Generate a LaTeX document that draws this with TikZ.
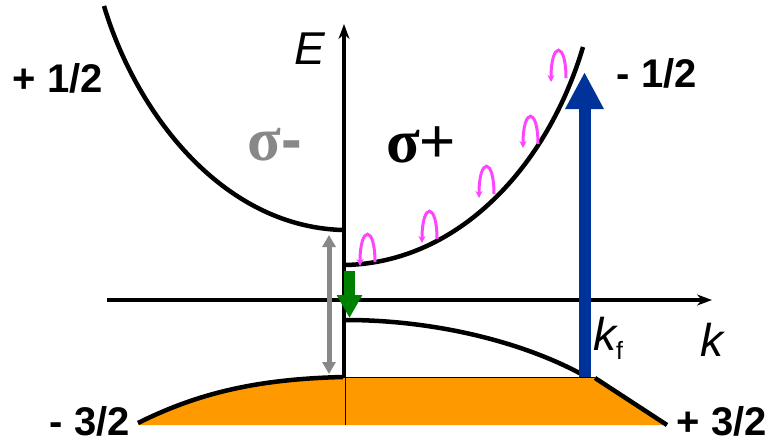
\documentclass[tikz,border=0pt]{standalone}
\usepackage{fontspec}
\setmainfont{Liberation Sans}
\newfontfamily\serifgreek{Liberation Serif}
\usetikzlibrary{arrows.meta}
\definecolor{orangefill}{HTML}{FF9900}
\definecolor{bluearrow}{HTML}{003399}
\definecolor{greenarrow}{HTML}{008000}
\definecolor{grayarrow}{HTML}{888888}
\definecolor{pinkarc}{HTML}{FF44FF}
\newcommand{\spincurl}[2]{%
  \draw[curl, shift={(#1,#2)}] (7,14) .. controls (7,-23) and (-8,-23) .. (-8,18);}
\begin{document}
\begin{tikzpicture}[x=1pt,y=-1pt,
  band/.style={line width=4.5pt},
  axisline/.style={line width=3.2pt},
  spinlabel/.style={font=\fontsize{40}{44}\selectfont\bfseries, inner sep=0pt},
  axislabel/.style={font=\fontsize{46}{50}\selectfont\itshape, inner sep=0pt},
  curl/.style={pinkarc, line width=3pt, -{Stealth[length=7pt,width=7pt]}},
]
\useasboundingbox (0,0) rectangle (773,445);

% orange filled heavy-hole region
\fill[orangefill] (138,425) .. controls (200,392) and (260,379) .. (343,377) -- (345,377) -- (345,425) -- cycle;
\fill[orangefill] (345,377) -- (595,377) -- (667,425) -- (345,425) -- cycle;
\draw[line width=1pt] (345,425) -- (345,377) -- (595,377);

% bands
\draw[band] (104,6) .. controls (135,110) and (220,226) .. (342,230);
\draw[band] (346,265) .. controls (460,262) and (548,165) .. (583,47);
\draw[band] (346,320) .. controls (430,320) and (520,340) .. (585,376);
\draw[band] (138,423) .. controls (200,392) and (260,379) .. (343,377);
\draw[band] (595,378) -- (667,425);

% axes
\coordinate (Ebot) at (344,378);
\coordinate (Etop) at (344,24);
\coordinate (kleft) at (107,300);
\coordinate (kright) at (712,300);
\draw[axisline, -{Stealth[length=15pt,width=11pt]}] (Ebot) -- (Etop);
\draw[axisline, -{Stealth[length=15pt,width=11pt]}] (kleft) -- (kright);

% arrows
\coordinate (bluebot) at (584.5,377);
\coordinate (bluetop) at (584.5,72);
\draw[bluearrow, line width=12pt, -{Triangle[length=37pt,width=36pt]}] (bluebot) -- (bluetop);
\coordinate (greentop) at (349.5,271);
\coordinate (greenbot) at (349.5,318);
\draw[greenarrow, line width=11pt, -{Triangle[length=23pt,width=24pt]}] (greentop) -- (greenbot);
\coordinate (graytop) at (329,235);
\coordinate (graybot) at (329,374);
\draw[grayarrow, line width=5pt, {Triangle[length=12pt,width=13pt]}-{Triangle[length=12pt,width=13pt]}] (graytop) -- (graybot);

% spin curls
\spincurl{368}{248}
\spincurl{430}{225}
\spincurl{487}{180}
\spincurl{531}{130}
\spincurl{559}{64}

% labels
\node[spinlabel] (pu) at (58,78) {+ 1/2};
\node[spinlabel] (mu) at (657,73) {- 1/2};
\node[spinlabel] (ml) at (90,421) {- 3/2};
\node[spinlabel] (pl) at (722,421) {+ 3/2};
\node[inner sep=0pt, text=grayarrow] (sm) at (275,145) {\fontsize{62}{66}\selectfont{\serifgreek\bfseries σ}\bfseries -};
\node[inner sep=0pt] (sp) at (421,145) {\fontsize{62}{66}\selectfont{\serifgreek\bfseries σ}+};
\node[axislabel] (El) at (310,49) {E};
\node[axislabel] (kl) at (712,340) {k};
\node[inner sep=0pt] (kf) at (608,338) {\fontsize{46}{50}\selectfont\itshape k\upshape\raisebox{-9pt}{\fontsize{25}{27}\selectfont f}};
\end{tikzpicture}
\end{document}
